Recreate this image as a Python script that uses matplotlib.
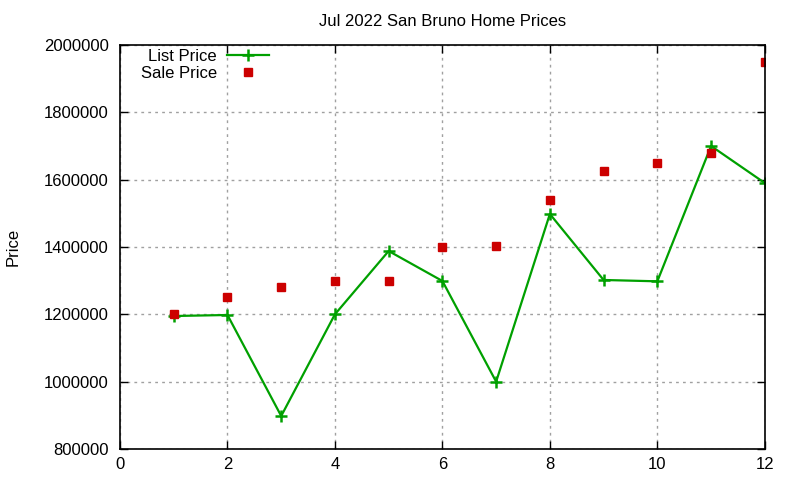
import matplotlib
matplotlib.use("Agg")
import matplotlib.pyplot as plt

plt.rcParams['font.family'] = ['Liberation Sans', 'DejaVu Sans']

# months / sale index
idx = [1, 2, 3, 4, 5, 6, 7, 8, 9, 10, 11, 12]
list_price = [1195000, 1198000, 898000, 1200000, 1388000, 1299000,
              1000000, 1498000, 1302000, 1298000, 1700000, 1590000]
sale_price = [1200000, 1250000, 1280000, 1300000, 1300000, 1400000,
              1403000, 1540000, 1625000, 1650000, 1680000, 1950000]

fig = plt.figure(figsize=(8, 4.8), dpi=100)
ax = fig.add_axes([0.15, 0.0646, 0.806, 0.8417])

ax.plot(idx, list_price, color="#00a000", linewidth=1.6, marker="+",
        markersize=8, markeredgewidth=1.8, label="List Price")
ax.plot(idx, sale_price, linestyle="none", marker="s", color="#cc0000",
        markersize=6, label="Sale Price")

ax.set_xlim(0, 12)
ax.set_ylim(800000, 2000000)
ax.set_xticks(range(0, 13, 2))
ax.set_yticks(range(800000, 2000001, 200000))
ax.get_yaxis().get_major_formatter().set_useOffset(False)
ax.ticklabel_format(axis="y", style="plain")

ax.grid(True, linestyle=(0, (2, 3)), color="#a0a0a0", linewidth=1)
ax.tick_params(direction="in", top=True, right=True, length=6,
               labelsize=12, width=1)
ax.tick_params(axis="y", pad=8)
ax.tick_params(axis="x", pad=6)
for s in ax.spines.values():
    s.set_linewidth(1.2)

ax.set_title("Jul 2022 San Bruno Home Prices", fontsize=12, pad=14)
fig.text(0.016, 0.485, "Price", rotation=90, fontsize=12,
         ha="center", va="center")

leg = ax.legend(loc="upper left", bbox_to_anchor=(0.017, 1.015), frameon=False,
                markerfirst=False, fontsize=12, handlelength=2.5,
                borderaxespad=0.2, labelspacing=0.1, handletextpad=0.6)
for t in leg.get_texts():
    t.set_ha("right")

fig.savefig("out.png", dpi=100)
